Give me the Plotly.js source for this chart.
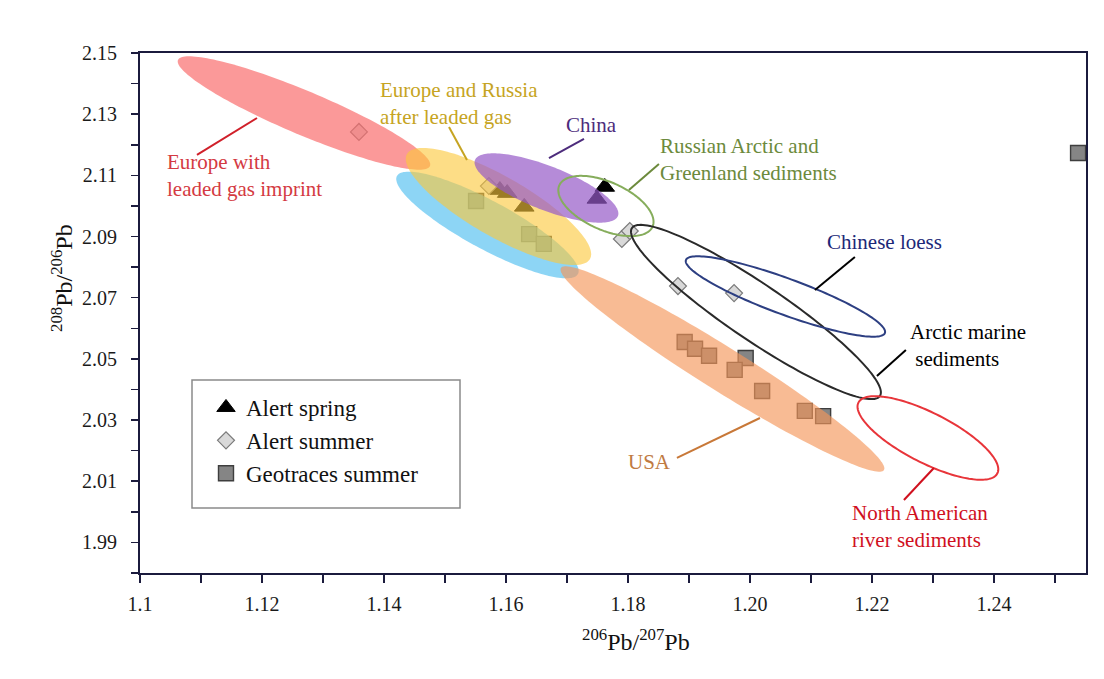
<!DOCTYPE html>
<html>
<head>
<meta charset="utf-8">
<script src="https://cdn.plot.ly/plotly-3.0.1.min.js"></script>
<style>html,body{margin:0;padding:0;background:#fff;}#chart{width:1104px;height:679px;}</style>
</head>
<body>
<div id="chart"></div>
<script>
// ---------- data ----------
const springX = [1.1590, 1.1602, 1.1630, 1.1762, 1.1749];
const springY = [2.1052, 2.1042, 2.0997, 2.1062, 2.1023];

const summerX = [1.1359, 1.1572, 1.1790, 1.1803, 1.1882, 1.1974];
const summerY = [2.1242, 2.1065, 2.0892, 2.0918, 2.0738, 2.0715];

const geoX = [1.1551, 1.1638, 1.1662, 1.1893, 1.1910, 1.1933, 1.1993, 1.1975, 1.2020, 1.2090, 1.2120, 1.2538];
const geoY = [2.1016, 2.0908, 2.0876, 2.0555, 2.0533, 2.0510, 2.0503, 2.0464, 2.0395, 2.0330, 2.0313, 2.1173];

const seriesNames = ['Alert spring', 'Alert summer', 'Geotraces summer'];

// source regions: major-axis endpoints (data units) and minor/major ratio
const regionNames = ['Europe with leaded gas imprint', 'Canada', 'Europe and Russia after leaded gas', 'China', 'USA',
  'Russian Arctic and Greenland sediments', 'Arctic marine sediments', 'Chinese loess', 'North American river sediments'];
const regionX1 = [1.10623, 1.14213, 1.14377, 1.15492, 1.16902, 1.16875, 1.18066, 1.18951, 1.21779];
const regionY1 = [2.14771, 2.10979, 2.11698, 2.11502, 2.07971, 2.10675, 2.09279, 2.08233, 2.03571];
const regionX2 = [1.14754, 1.17180, 1.17377, 1.17836, 1.22197, 1.18403, 1.22131, 1.22213, 1.24057];
const regionY2 = [2.11306, 2.07775, 2.08266, 2.09671, 2.01368, 2.09322, 2.03787, 2.05847, 2.01257];
const regionRatio = [0.16, 0.233, 0.284, 0.286, 0.115, 0.47, 0.187, 0.17, 0.32];

// tick values and labels
const xTickVals = [1.10,1.11,1.12,1.13,1.14,1.15,1.16,1.17,1.18,1.19,1.20,1.21,1.22,1.23,1.24,1.25];
const xTickText = ['1.1','','1.12','','1.14','','1.16','','1.18','','1.20','','1.22','','1.24',''];
const yTickVals = [1.98,1.99,2.00,2.01,2.02,2.03,2.04,2.05,2.06,2.07,2.08,2.09,2.10,2.11,2.12,2.13,2.14,2.15];
const yTickText = ['','1.99','','2.01','','2.03','','2.05','','2.07','','2.09','','2.11','','2.13','','2.15'];

// ---------- styles ----------
const W = 1104, H = 679;
const M = {l: 140, r: 18, t: 53, b: 106};
const xRange = [1.1, 1.2551];
const yRange = [1.98, 2.15];
const serif = 'Liberation Serif';
const axisColor = '#1b1b3d';

const regionStyle = [
  {fill: 'rgba(250,110,110,0.70)'},
  {fill: 'rgba(80,190,240,0.65)'},
  {fill: 'rgba(252,200,60,0.62)'},
  {fill: 'rgba(150,90,200,0.70)'},
  {fill: 'rgba(245,150,90,0.65)'},
  {line: '#86ad5c'},
  {line: '#2a2a2a'},
  {line: '#2d3f82'},
  {line: '#e8353a'}
];

// ---------- ellipse paths through the axis scales ----------
const plotW = W - M.l - M.r, plotH = H - M.t - M.b;
const kx = plotW / (xRange[1] - xRange[0]);
const ky = plotH / (yRange[1] - yRange[0]);
function ellipsePath(x1, y1, x2, y2, ratio) {
  const u1 = x1 * kx, v1 = y1 * ky, u2 = x2 * kx, v2 = y2 * ky;
  const cu = (u1 + u2) / 2, cv = (v1 + v2) / 2;
  const a = Math.hypot(u2 - u1, v2 - v1) / 2, b = a * ratio;
  const ang = Math.atan2(v2 - v1, u2 - u1);
  const ca = Math.cos(ang), sa = Math.sin(ang);
  let d = '';
  const N = 160;
  for (let i = 0; i <= N; i++) {
    const t = 2 * Math.PI * i / N;
    const px = a * Math.cos(t), py = b * Math.sin(t);
    const u = cu + px * ca - py * sa, v = cv + px * sa + py * ca;
    d += (i === 0 ? 'M' : 'L') + (u / kx).toFixed(6) + ',' + (v / ky).toFixed(6);
  }
  return d + 'Z';
}

const shapes = [];
regionNames.forEach((name, i) => {
  const st = regionStyle[i];
  const s = {type: 'path', xref: 'x', yref: 'y', layer: 'above',
    path: ellipsePath(regionX1[i], regionY1[i], regionX2[i], regionY2[i], regionRatio[i])};
  if (st.fill) { s.fillcolor = st.fill; s.line = {width: 0}; }
  else { s.fillcolor = 'rgba(0,0,0,0)'; s.line = {color: st.line, width: 2}; }
  shapes.push(s);
});

// region labels with pointer lines (data coordinates)
const labels = [
  {text: 'Europe with<br>leaded gas imprint', x: 1.1041, y: 2.1098, color: '#d43a42', lc: '#d0202a', lx: [1.10934, 1.11918], ly: [2.11667, 2.12875]},
  {text: 'Europe and Russia<br>after leaded gas', x: 1.13902, y: 2.13365, color: '#c6a422', lc: '#c6a422', lx: [1.15066, 1.15361], ly: [2.12581, 2.11502]},
  {text: 'China', x: 1.1741, y: 2.12646, color: '#4d2c7c', lc: '#4d2c7c', center: true, lx: [1.16705, 1.17279], ly: [2.11567, 2.12189]},
  {text: 'Russian Arctic and<br>Greenland sediments', x: 1.18492, y: 2.11518, color: '#6c8a3c', lc: '#6c8a3c', lx: [1.18016, 1.18508], ly: [2.10521, 2.11371]},
  {text: 'Chinese loess', x: 1.2123, y: 2.08822, color: '#1c2878', lc: '#000000', lx: [1.21066, 1.21721], ly: [2.07252, 2.08331]},
  {text: 'Arctic marine<br> sediments', x: 1.2259, y: 2.05422, color: '#000000', lc: '#000000', lx: [1.22082, 1.22557], ly: [2.04441, 2.05291]},
  {text: 'USA', x: 1.1836, y: 2.0163, color: '#c07a42', lc: '#c87838', center: true, lx: [1.18803, 1.20164], ly: [2.01761, 2.03068]},
  {text: 'North American<br>river sediments', x: 1.2164, y: 1.99505, color: '#d0101e', lc: '#d0101e', lx: [1.22525, 1.23016], ly: [2.00387, 2.01433]}
];
const annotations = [];
labels.forEach(L => {
  annotations.push({x: L.x, y: L.y, xref: 'x', yref: 'y', text: L.text, showarrow: false,
    xanchor: L.center ? 'center' : 'left', yanchor: 'middle', align: 'left',
    font: {family: serif, size: 21, color: L.color}});
  shapes.push({type: 'line', xref: 'x', yref: 'y', layer: 'above', x0: L.lx[0], y0: L.ly[0], x1: L.lx[1], y1: L.ly[1],
    line: {color: L.lc, width: 2}});
});

// axis titles
annotations.push({xref: 'paper', yref: 'paper', x: (636 - M.l) / plotW, y: -(640 - (H - M.b)) / plotH,
  text: '<sup>206</sup>Pb/<sup>207</sup>Pb', showarrow: false, xanchor: 'center', yanchor: 'middle',
  font: {family: serif, size: 24, color: '#111'}});
annotations.push({xref: 'paper', yref: 'paper', x: (62 - M.l) / plotW, y: ((H - M.b) - 278) / plotH,
  text: '<sup>208</sup>Pb/<sup>206</sup>Pb', showarrow: false, textangle: -90, xanchor: 'center', yanchor: 'middle',
  font: {family: serif, size: 24, color: '#111'}});

// legend frame
shapes.push({type: 'rect', xref: 'paper', yref: 'paper', layer: 'above',
  x0: (192 - M.l) / plotW, x1: (460 - M.l) / plotW, y0: ((H - M.b) - 508) / plotH, y1: ((H - M.b) - 380) / plotH,
  line: {color: '#8a8a8a', width: 1.5}, fillcolor: 'rgba(0,0,0,0)'});

const traces = [
  {x: springX, y: springY, name: seriesNames[0], type: 'scatter', mode: 'markers',
    marker: {symbol: 'triangle-up', size: 17, color: '#000000', line: {color: '#000', width: 1}}},
  {x: summerX, y: summerY, name: seriesNames[1], type: 'scatter', mode: 'markers',
    marker: {symbol: 'diamond', size: 13, color: '#d9d9d9', line: {color: '#7a7a7a', width: 1.2}}},
  {x: geoX, y: geoY, name: seriesNames[2], type: 'scatter', mode: 'markers',
    marker: {symbol: 'square', size: 15, color: '#858585', line: {color: '#3e3e3e', width: 1.4}}}
];

const axisCommon = {showgrid: false, zeroline: false, showline: true, linecolor: axisColor, linewidth: 2,
  mirror: true, ticks: 'outside', tickcolor: axisColor, tickwidth: 1.5, tickmode: 'array',
  tickfont: {family: serif, size: 20, color: '#1a1a1a'}};

const layout = {
  width: W, height: H, margin: M, paper_bgcolor: '#fff', plot_bgcolor: '#fff',
  font: {family: serif},
  xaxis: Object.assign({}, axisCommon, {range: xRange, tickvals: xTickVals, ticktext: xTickText, ticklen: 8, ticklabelstandoff: 4}),
  yaxis: Object.assign({}, axisCommon, {range: yRange, tickvals: yTickVals, ticktext: yTickText, ticklen: 7, ticklabelstandoff: 10}),
  showlegend: true,
  legend: {x: (206 - M.l) / plotW, xanchor: 'left', y: ((H - M.b) - 386) / plotH, yanchor: 'top',
    bgcolor: 'rgba(0,0,0,0)', borderwidth: 0, font: {family: serif, size: 23, color: '#111'}, tracegroupgap: 0},
  shapes: shapes, annotations: annotations
};

Plotly.newPlot('chart', traces, layout, {displayModeBar: false, staticPlot: true});
</script>
</body>
</html>
